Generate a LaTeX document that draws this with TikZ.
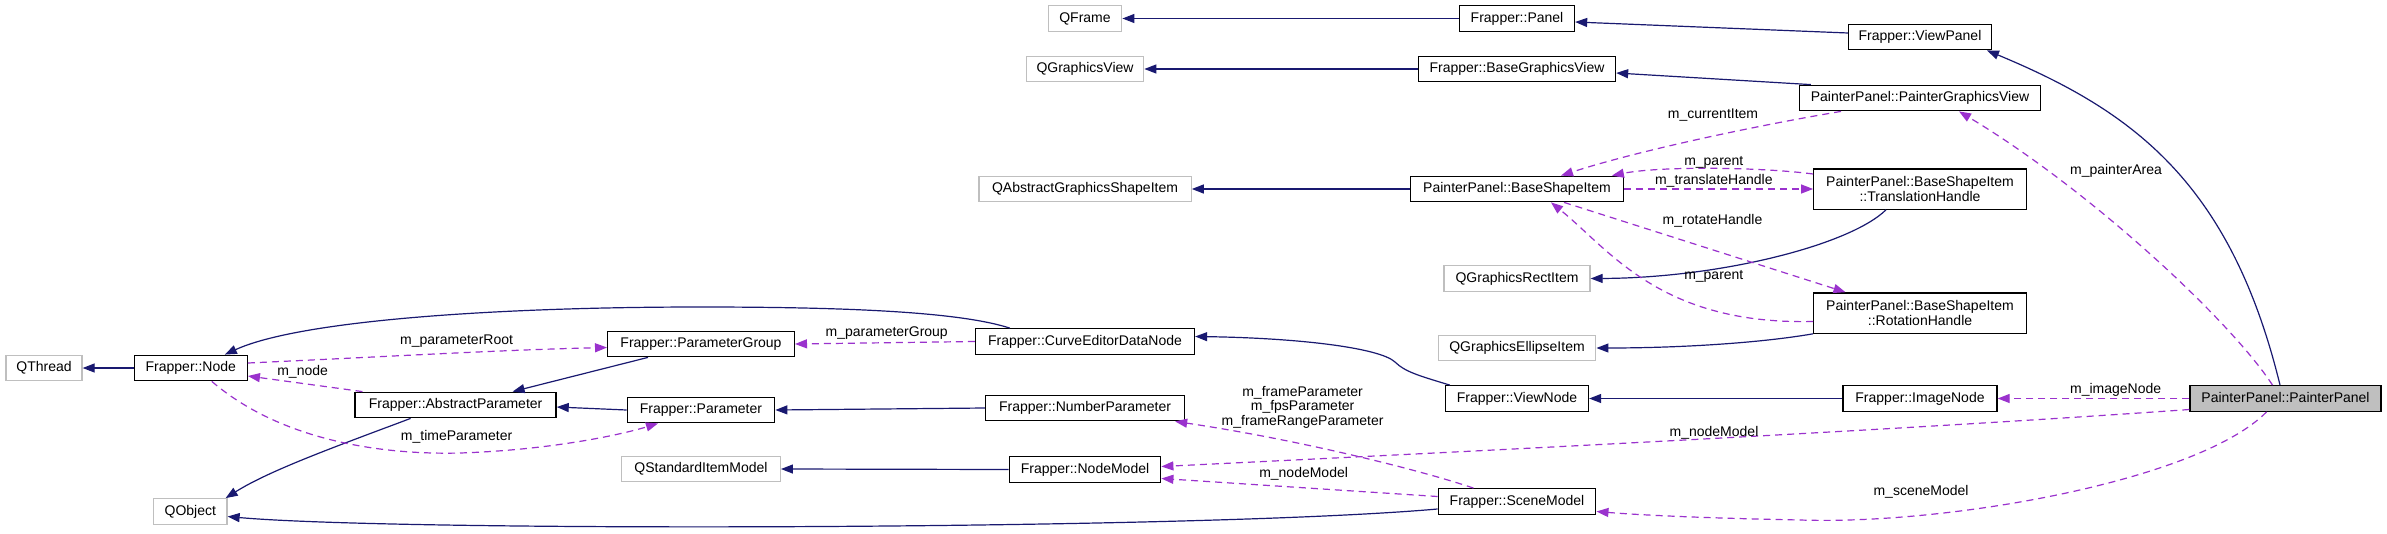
\documentclass[tikz,border=0pt]{standalone}
\usepackage{fontspec}
\setmainfont{Liberation Sans}
\usetikzlibrary{arrows.meta}
\definecolor{navyedge}{RGB}{25,25,112}
\definecolor{orchidedge}{RGB}{154,50,205}
\definecolor{extgray}{RGB}{191,191,191}
\begin{document}
\begin{tikzpicture}[x=1pt,y=-1pt,
  cls/.style={draw=black, line width=1.3pt, inner sep=0pt, minimum height=25.5pt,
    font=\fontsize{14}{15}\selectfont, text height=10pt, text depth=3pt},
  cls2/.style={draw=black, line width=1.3pt, inner sep=0pt, minimum height=40.3pt,
    font=\fontsize{14}{14.7}\selectfont, align=center},
  ext/.style={cls, draw=extgray},
  focus/.style={cls, fill=extgray},
  inh/.style={draw=navyedge, line width=1.2pt, -{Triangle[length=12pt,width=9pt]}},
  use/.style={draw=orchidedge, line width=1.2pt, dash pattern=on 7pt off 5pt,
    -{Triangle[length=12pt,width=9pt]}},
  lbl/.style={inner sep=0pt, font=\fontsize{14}{14.5}\selectfont, align=center}]
\fill[white] (0,0) rectangle (2387,533);
\useasboundingbox (0,0) rectangle (2387,533);

% nodes
\node[ext, minimum width=73.5pt] (qframe) at (1085,18.5) {QFrame};
\node[cls, minimum width=115pt] (panel) at (1517,18.5) {Frapper::Panel};
\node[cls, minimum width=142.6pt] (viewpanel) at (1920,37) {Frapper::ViewPanel};
\node[ext, minimum width=117.4pt] (qgview) at (1085,69) {QGraphicsView};
\node[cls, minimum width=197pt] (bgview) at (1517,69) {Frapper::BaseGraphicsView};
\node[cls, minimum width=241pt] (pgview) at (1920,98) {PainterPanel::PainterGraphicsView};
\node[ext, minimum width=212.3pt] (qagsi) at (1085,189) {QAbstractGraphicsShapeItem};
\node[cls, minimum width=212.5pt] (bsi) at (1517,189) {PainterPanel::BaseShapeItem};
\node[cls2, minimum width=212.5pt] (th) at (1920,189) {PainterPanel::BaseShapeItem\\::TranslationHandle};
\node[ext, minimum width=146pt] (qrect) at (1517,278.5) {QGraphicsRectItem};
\node[cls2, minimum width=212.5pt] (rh) at (1920,313) {PainterPanel::BaseShapeItem\\::RotationHandle};
\node[ext, minimum width=157.6pt] (qell) at (1517,348) {QGraphicsEllipseItem};
\node[cls, minimum width=143pt] (viewnode) at (1517,398.5) {Frapper::ViewNode};
\node[cls, minimum width=154pt] (imagenode) at (1920,398.5) {Frapper::ImageNode};
\node[focus, minimum width=191pt] (pp) at (2285.5,398.5) {PainterPanel::PainterPanel};
\node[cls, minimum width=157.6pt] (scene) at (1517,501.5) {Frapper::SceneModel};
\node[cls, minimum width=219pt] (cedn) at (1085,341.5) {Frapper::CurveEditorDataNode};
\node[cls, minimum width=199pt] (numparam) at (1085,408) {Frapper::NumberParameter};
\node[cls, minimum width=151.5pt] (nodemodel) at (1085,469.5) {Frapper::NodeModel};
\node[cls, minimum width=186.7pt] (pgroup) at (701,344) {Frapper::ParameterGroup};
\node[cls, minimum width=147.5pt] (param) at (701,410) {Frapper::Parameter};
\node[ext, minimum width=158.6pt] (qsim) at (701,469) {QStandardItemModel};
\node[cls, minimum width=201pt] (absparam) at (455.6,405) {Frapper::AbstractParameter};
\node[cls, minimum width=113pt] (fnode) at (190.8,368) {Frapper::Node};
\node[ext, minimum width=76pt] (qthread) at (44,368) {QThread};
\node[ext, minimum width=73.4pt] (qobject) at (190.3,511.5) {QObject};

% inheritance edges
\draw[inh] (fnode.west) -- (qthread.east);
\draw[inh] (panel.west) -- (qframe.east);
\draw[inh] ([yshift=4pt]viewpanel.west) -- ([yshift=-3.5pt]panel.east);
\draw[inh] (bgview.west) -- (qgview.east);
\draw[inh] ([xshift=12pt]pgview.north west) -- ([yshift=-4pt]bgview.east);
\draw[inh] (bsi.west) -- (qagsi.east);
\draw[inh] ([xshift=-34pt]th.south) .. controls (1850,245) and (1720,278) .. (qrect.east);
\draw[inh] (rh.south west) .. controls (1760,343) and (1680,348) .. (qell.east);
\draw[inh] (imagenode.west) -- (viewnode.east);
\draw[inh] ([xshift=5pt]viewnode.north west) .. controls (1420,376) and (1405,372) .. (1395,362)
  .. controls (1380,348) and (1300,338) .. ([yshift=5pt]cedn.east);
\draw[inh] ([xshift=35pt]cedn.north west) .. controls (960,312) and (850,307) .. (700,307)
  .. controls (500,307) and (300,320) .. ([xshift=34pt]fnode.north);
\draw[inh] ([xshift=-53pt]pgroup.south) -- ([xshift=57pt]absparam.north);
\draw[inh] (param.west) -- ([yshift=-2pt]absparam.east);
\draw[inh] (numparam.west) -- (param.east);
\draw[inh] (nodemodel.west) -- (qsim.east);
\draw[inh] ([xshift=-45pt]absparam.south) .. controls (340,445) and (270,470) .. ([xshift=-2pt]qobject.north east);
\draw[inh] ([yshift=-7.5pt]scene.west) .. controls (1200,530) and (400,532) .. ([yshift=-5pt]qobject.east);
\draw[inh] ([xshift=-5.5pt]pp.north) .. controls (2230,180) and (2130,110) .. ([xshift=-5pt]viewpanel.south east);

% usage edges
\draw[use] ([yshift=5pt]fnode.east) .. controls (400,356) and (500,350) .. ([yshift=-3.5pt]pgroup.west);
\draw[use] ([xshift=8pt]absparam.north west) -- ([yshift=-8pt]fnode.east);
\draw[use] ([xshift=21pt]fnode.south) .. controls (280,440) and (380,455) .. (460,453)
  .. controls (550,450) and (620,435) .. ([xshift=-43pt]param.south);
\draw[use] (cedn.west) -- (pgroup.east);
\draw[use] ([xshift=-43.5pt]scene.north) .. controls (1420,470) and (1300,440) .. ([xshift=-10pt]numparam.south east);
\draw[use] ([yshift=5pt]scene.west) -- ([yshift=-9pt]nodemodel.east);
\draw[use] ([yshift=-11pt]pp.west) .. controls (1900,430) and (1500,450) .. ([yshift=3pt]nodemodel.east);
\draw[use] (pp.west) -- (imagenode.east);
\draw[use] ([xshift=-19pt]pp.south) .. controls (2200,480) and (1950,525) .. (1800,520)
  .. controls (1700,518) and (1640,515) .. ([yshift=-10pt]scene.east);
\draw[use] ([xshift=-13pt]pp.north) .. controls (2230,320) and (2090,190) .. ([xshift=39pt]pgview.south);
\draw[use] ([xshift=-79pt]pgview.south) .. controls (1760,125) and (1640,150) .. ([xshift=44pt]bsi.north);
\draw[use] ([yshift=15pt]th.west) .. controls (1760,167) and (1660,166) .. ([xshift=-12pt]bsi.north east);
\draw[use] (bsi.east) -- (th.west);
\draw[use] ([xshift=47pt]bsi.south) -- ([xshift=-74.5pt]rh.north);
\draw[use] ([yshift=-8.5pt]rh.west) .. controls (1660,325) and (1610,250) .. ([xshift=34pt]bsi.south);

% labels
\node[lbl] (l1) at (456.6,341) {m\_parameterRoot};
\node[lbl] (l2) at (302.6,371.7) {m\_node};
\node[lbl] (l3) at (456.6,436.7) {m\_timeParameter};
\node[lbl] (l4) at (886.7,332.7) {m\_parameterGroup};
\node[lbl] (l5) at (1302.6,407) {m\_frameParameter\\m\_fpsParameter\\m\_frameRangeParameter};
\node[lbl] (l6) at (1303.6,474.3) {m\_nodeModel};
\node[lbl] (l7) at (1714,432.7) {m\_nodeModel};
\node[lbl] (l8) at (2115.6,390) {m\_imageNode};
\node[lbl] (l9) at (1921,491.7) {m\_sceneModel};
\node[lbl] (l10) at (2116,170.7) {m\_painterArea};
\node[lbl] (l11) at (1713,115) {m\_currentItem};
\node[lbl] (l12) at (1713.8,162.7) {m\_parent};
\node[lbl] (l13) at (1713.8,180.7) {m\_translateHandle};
\node[lbl] (l14) at (1712.5,220.7) {m\_rotateHandle};
\node[lbl] (l15) at (1713.8,276.7) {m\_parent};
\end{tikzpicture}
\end{document}
